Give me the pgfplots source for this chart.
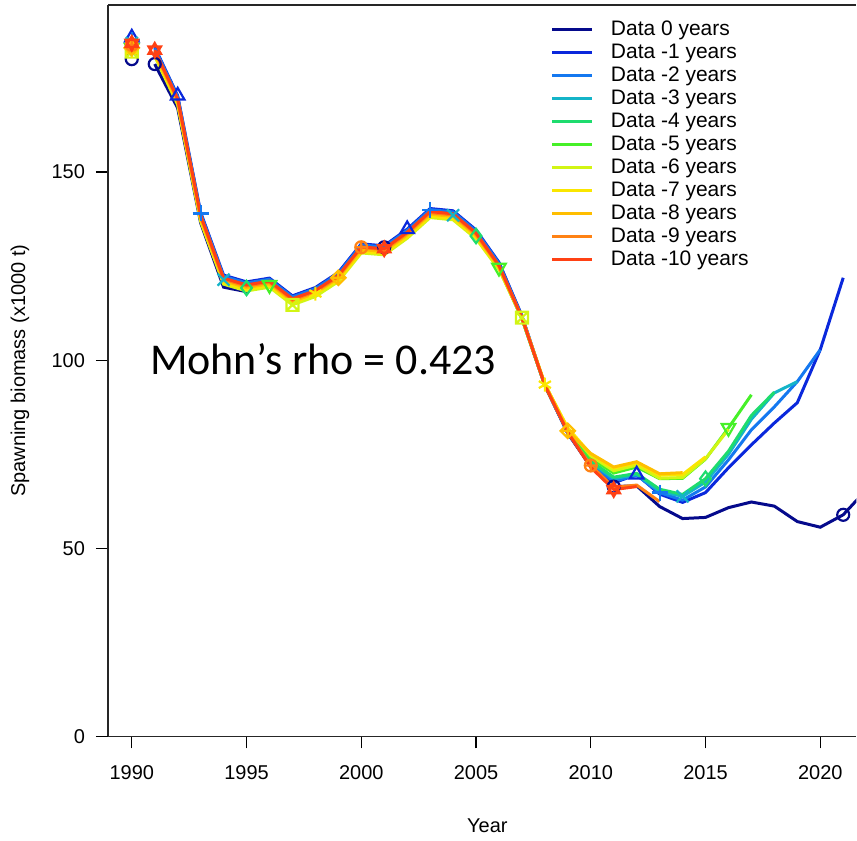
\documentclass[border=0pt]{standalone}
\usepackage{fontspec}
\setmainfont{Liberation Sans}
\newfontfamily\carlito{Carlito}
\usepackage{pgfplots}
\pgfplotsset{compat=1.18}
\definecolor{c0}{RGB}{5,10,140}
\definecolor{c1}{RGB}{10,40,220}
\definecolor{c2}{RGB}{20,120,240}
\definecolor{c3}{RGB}{20,180,200}
\definecolor{c4}{RGB}{30,220,110}
\definecolor{c5}{RGB}{70,240,40}
\definecolor{c6}{RGB}{210,245,20}
\definecolor{c7}{RGB}{250,230,0}
\definecolor{c8}{RGB}{255,190,0}
\definecolor{c9}{RGB}{255,130,20}
\definecolor{c10}{RGB}{255,65,20}
\pgfdeclareplotmark{boxx}{%
  \pgfpathrectangle{\pgfpoint{-\pgfplotmarksize}{-\pgfplotmarksize}}{\pgfpoint{2\pgfplotmarksize}{2\pgfplotmarksize}}%
  \pgfpathmoveto{\pgfpoint{-\pgfplotmarksize}{-\pgfplotmarksize}}\pgfpathlineto{\pgfpoint{\pgfplotmarksize}{\pgfplotmarksize}}%
  \pgfpathmoveto{\pgfpoint{-\pgfplotmarksize}{\pgfplotmarksize}}\pgfpathlineto{\pgfpoint{\pgfplotmarksize}{-\pgfplotmarksize}}%
  \pgfusepathqstroke}
\pgfdeclareplotmark{diamplus}{%
  \pgfpathmoveto{\pgfpoint{0pt}{1.2\pgfplotmarksize}}\pgfpathlineto{\pgfpoint{1.2\pgfplotmarksize}{0pt}}%
  \pgfpathlineto{\pgfpoint{0pt}{-1.2\pgfplotmarksize}}\pgfpathlineto{\pgfpoint{-1.2\pgfplotmarksize}{0pt}}\pgfpathclose
  \pgfpathmoveto{\pgfpoint{0pt}{1.2\pgfplotmarksize}}\pgfpathlineto{\pgfpoint{0pt}{-1.2\pgfplotmarksize}}%
  \pgfpathmoveto{\pgfpoint{-1.2\pgfplotmarksize}{0pt}}\pgfpathlineto{\pgfpoint{1.2\pgfplotmarksize}{0pt}}%
  \pgfusepathqstroke}
\pgfdeclareplotmark{david}{%
  \pgfpathmoveto{\pgfqpointpolar{90}{1.2\pgfplotmarksize}}\pgfpathlineto{\pgfqpointpolar{210}{1.2\pgfplotmarksize}}%
  \pgfpathlineto{\pgfqpointpolar{330}{1.2\pgfplotmarksize}}\pgfpathclose
  \pgfpathmoveto{\pgfqpointpolar{270}{1.2\pgfplotmarksize}}\pgfpathlineto{\pgfqpointpolar{30}{1.2\pgfplotmarksize}}%
  \pgfpathlineto{\pgfqpointpolar{150}{1.2\pgfplotmarksize}}\pgfpathclose
  \pgfusepathqstroke}
\pgfdeclareplotmark{invtri}{%
  \pgfpathmoveto{\pgfqpointpolar{270}{1.3\pgfplotmarksize}}\pgfpathlineto{\pgfqpointpolar{30}{1.3\pgfplotmarksize}}%
  \pgfpathlineto{\pgfqpointpolar{150}{1.3\pgfplotmarksize}}\pgfpathclose
  \pgfusepathqstroke}
\pgfdeclareplotmark{uptri}{%
  \pgfpathmoveto{\pgfqpointpolar{90}{1.3\pgfplotmarksize}}\pgfpathlineto{\pgfqpointpolar{210}{1.3\pgfplotmarksize}}%
  \pgfpathlineto{\pgfqpointpolar{330}{1.3\pgfplotmarksize}}\pgfpathclose
  \pgfusepathqstroke}
\pgfdeclareplotmark{bigx}{%
  \pgfpathmoveto{\pgfpoint{-\pgfplotmarksize}{-\pgfplotmarksize}}\pgfpathlineto{\pgfpoint{\pgfplotmarksize}{\pgfplotmarksize}}%
  \pgfpathmoveto{\pgfpoint{-\pgfplotmarksize}{\pgfplotmarksize}}\pgfpathlineto{\pgfpoint{\pgfplotmarksize}{-\pgfplotmarksize}}%
  \pgfusepathqstroke}
\pgfplotsset{mk/.style={only marks, forget plot, line width=1.1pt, mark size=3pt, mark options={solid}}}
\begin{document}
\begin{tikzpicture}
\begin{axis}[
  scale only axis, width=374.5pt, height=366pt,
  xmin=1988.96, xmax=2021.57, ymin=0, ymax=194.4,
  axis x line=box, axis y line=left,
  axis line style={-, black!85, line width=0.7pt},
  xtick={1990,1995,2000,2005,2010,2015,2020},
  ytick={0,50,100,150},
  xtick pos=left, ytick pos=left,
  tick align=outside, major tick length=6pt,
  tick style={black, line width=0.6pt},
  ticklabel style={font=\fontsize{10}{12}\selectfont},
  xticklabel style={yshift=-5pt},
  yticklabel style={xshift=-2pt},
  /pgf/number format/assume math mode=true,
  /pgf/number format/1000 sep={},
  xlabel={Year},
  ylabel={Spawning biomass (x1000 t)},
  label style={font=\fontsize{10}{12}\selectfont},
  xlabel style={at={(axis description cs:0.507,-0.1216)}, anchor=center},
  ylabel style={at={(axis description cs:-0.1175,0.5)}, anchor=center},
  legend style={at={(axis description cs:0.5915,0.981)}, anchor=north west,
    draw=none, fill=none, inner sep=0pt, font=\fontsize{10.5}{12}\selectfont,
    row sep=1pt, nodes={inner sep=0pt, text height=8pt, text depth=2.5pt},
    /tikz/every odd column/.append style={column sep=8.5pt}},
  legend cell align=left,
  legend image code/.code={\draw[#1] (0pt,0pt) -- (20pt,0pt);},
]
% ---- Data 0
\addplot[c0, no marks, line width=1.5pt] coordinates {(1991,178.7)(1992,167.0)(1993,136.5)(1994,119.4)(1995,118.2)(1996,121.2)(1997,116.5)(1998,118.8)(1999,122.9)(2000,130.5)(2001,130.0)(2002,134.4)(2003,139.9)(2004,139.3)(2005,134.2)(2006,125.6)(2007,111.4)(2008,93.3)(2009,80.6)(2010,71.6)(2011,66.4)(2012,66.6)(2013,61.1)(2014,57.9)(2015,58.2)(2016,60.8)(2017,62.3)(2018,61.2)(2019,57.1)(2020,55.6)(2021,58.9)(2022,65.5)};
\addlegendentry{Data 0 years}
% ---- Data -1
\addplot[c1, no marks, line width=1.5pt] coordinates {(1991,183.2)(1992,170.3)(1993,139.3)(1994,122.6)(1995,120.8)(1996,121.8)(1997,117.1)(1998,119.3)(1999,123.3)(2000,130.9)(2001,130.4)(2002,134.8)(2003,140.3)(2004,139.7)(2005,134.6)(2006,126.0)(2007,111.8)(2008,93.3)(2009,80.5)(2010,72.0)(2011,67.4)(2012,69.6)(2013,64.4)(2014,62.2)(2015,64.8)(2016,71.4)(2017,77.5)(2018,83.3)(2019,88.7)(2020,102.8)(2021,121.9)};
\addlegendentry{Data -1 years}
% ---- Data -2
\addplot[c2, no marks, line width=1.5pt] coordinates {(1991,182.9)(1992,170.0)(1993,139.0)(1994,122.3)(1995,120.5)(1996,121.5)(1997,116.8)(1998,119.0)(1999,123.0)(2000,130.6)(2001,130.1)(2002,134.5)(2003,140.0)(2004,139.4)(2005,134.3)(2006,125.7)(2007,111.6)(2008,93.3)(2009,80.6)(2010,72.3)(2011,67.8)(2012,69.4)(2013,64.8)(2014,62.8)(2015,66.3)(2016,73.5)(2017,81.5)(2018,87.6)(2019,94.3)(2020,102.8)};
\addlegendentry{Data -2 years}
% ---- Data -3
\addplot[c3, no marks, line width=1.5pt] coordinates {(1991,182.0)(1992,169.1)(1993,138.1)(1994,121.4)(1995,119.6)(1996,120.6)(1997,115.9)(1998,118.1)(1999,122.1)(2000,129.7)(2001,129.2)(2002,133.6)(2003,139.1)(2004,138.5)(2005,133.4)(2006,124.8)(2007,111.1)(2008,93.3)(2009,80.8)(2010,72.8)(2011,68.5)(2012,69.6)(2013,65.2)(2014,63.8)(2015,67.6)(2016,75.0)(2017,84.3)(2018,91.3)(2019,94.3)};
\addlegendentry{Data -3 years}
% ---- Data -4
\addplot[c4, no marks, line width=1.5pt] coordinates {(1991,181.6)(1992,168.7)(1993,137.7)(1994,121.0)(1995,119.2)(1996,120.2)(1997,115.5)(1998,117.7)(1999,121.7)(2000,129.3)(2001,128.8)(2002,133.2)(2003,138.7)(2004,138.1)(2005,133.0)(2006,124.5)(2007,111.0)(2008,93.3)(2009,80.9)(2010,73.2)(2011,68.9)(2012,69.9)(2013,65.7)(2014,64.3)(2015,68.5)(2016,75.8)(2017,85.3)(2018,91.5)};
\addlegendentry{Data -4 years}
% ---- Data -5
\addplot[c5, no marks, line width=1.5pt] coordinates {(1991,181.4)(1992,168.5)(1993,137.5)(1994,120.8)(1995,119.0)(1996,120.0)(1997,115.3)(1998,117.5)(1999,121.5)(2000,129.1)(2001,128.6)(2002,133.0)(2003,138.5)(2004,137.9)(2005,132.8)(2006,124.6)(2007,111.1)(2008,93.4)(2009,81.3)(2010,74.0)(2011,70.0)(2012,71.6)(2013,68.5)(2014,68.6)(2015,73.7)(2016,82.0)(2017,90.8)};
\addlegendentry{Data -5 years}
% ---- Data -6
\addplot[c6, no marks, line width=1.5pt] coordinates {(1991,180.8)(1992,167.9)(1993,136.9)(1994,120.2)(1995,118.4)(1996,119.4)(1997,114.7)(1998,116.9)(1999,120.9)(2000,128.5)(2001,128.0)(2002,132.4)(2003,137.9)(2004,137.3)(2005,132.3)(2006,124.1)(2007,111.3)(2008,93.6)(2009,81.8)(2010,74.6)(2011,70.6)(2012,72.1)(2013,68.6)(2014,68.8)(2015,73.8)(2016,81.6)};
\addlegendentry{Data -6 years}
% ---- Data -7
\addplot[c7, no marks, line width=1.5pt] coordinates {(1991,181.2)(1992,168.3)(1993,137.3)(1994,120.6)(1995,118.8)(1996,119.8)(1997,115.1)(1998,117.7)(1999,121.3)(2000,128.9)(2001,128.4)(2002,132.8)(2003,138.3)(2004,137.7)(2005,132.7)(2006,124.5)(2007,111.2)(2008,93.5)(2009,82.0)(2010,75.0)(2011,71.3)(2012,72.7)(2013,69.4)(2014,69.6)(2015,74.3)};
\addlegendentry{Data -7 years}
% ---- Data -8
\addplot[c8, no marks, line width=1.5pt] coordinates {(1991,181.7)(1992,168.8)(1993,137.8)(1994,121.1)(1995,119.3)(1996,120.3)(1997,115.6)(1998,117.8)(1999,121.9)(2000,129.4)(2001,128.9)(2002,133.3)(2003,138.8)(2004,138.2)(2005,133.1)(2006,124.8)(2007,111.3)(2008,93.7)(2009,81.2)(2010,75.2)(2011,71.6)(2012,73.0)(2013,69.8)(2014,70.1)};
\addlegendentry{Data -8 years}
% ---- Data -9
\addplot[c9, no marks, line width=1.5pt] coordinates {(1991,182.1)(1992,169.2)(1993,138.2)(1994,121.5)(1995,119.7)(1996,120.7)(1997,116.0)(1998,118.2)(1999,122.2)(2000,130.0)(2001,129.3)(2002,133.7)(2003,139.2)(2004,138.6)(2005,133.5)(2006,125.0)(2007,111.3)(2008,93.3)(2009,80.8)(2010,72.0)(2011,66.2)(2012,66.8)(2013,62.4)};
\addlegendentry{Data -9 years}
% ---- Data -10
\addplot[c10, no marks, line width=1.5pt] coordinates {(1991,182.4)(1992,169.5)(1993,138.5)(1994,121.8)(1995,120.0)(1996,121.0)(1997,116.3)(1998,118.5)(1999,122.5)(2000,130.1)(2001,129.6)(2002,134.0)(2003,139.5)(2004,138.9)(2005,133.8)(2006,125.2)(2007,111.3)(2008,93.3)(2009,80.8)(2010,71.5)(2011,65.6)(2012,66.4)};
\addlegendentry{Data -10 years}
% ---- markers
\addplot[c0, mk, mark=o] coordinates {(1990,180.0)(1991,178.7)(2001,130.0)(2011,66.4)(2021,58.9)};
\addplot[c1, mk, mark=uptri] coordinates {(1990,185.7)(1992,170.3)(2002,134.8)(2012,69.6)};
\addplot[c2, mk, mark=+, mark size=4pt] coordinates {(1990,185.0)(1993,139.0)(2003,140.0)(2013,64.8)};
\addplot[c3, mk, mark=bigx, mark size=3pt] coordinates {(1990,184.3)(1994,121.4)(2004,138.5)(2014,63.8)};
\addplot[c4, mk, mark=diamond, mark size=3.6pt] coordinates {(1990,183.5)(1995,119.2)(2005,133.0)(2015,68.5)};
\addplot[c5, mk, mark=invtri] coordinates {(1990,183.0)(1996,120.0)(2006,124.6)(2016,82.0)};
\addplot[c6, mk, mark=boxx] coordinates {(1990,182.0)(1997,114.7)(2007,111.3)};
\addplot[c7, mk, mark=asterisk, mark size=3.5pt] coordinates {(1990,182.3)(1998,117.7)(2008,93.5)};
\addplot[c8, mk, mark=diamplus] coordinates {(1990,183.0)(1999,121.9)(2009,81.2)};
\addplot[c9, mk, mark=oplus] coordinates {(1990,183.8)(2000,130.0)(2010,72.0)};
\addplot[c10, mk, mark=david] coordinates {(1990,184.2)(1991,182.4)(2001,129.6)(2011,65.6)};
\node[anchor=base west, inner sep=0pt, font=\carlito\fontsize{22}{26}\selectfont] at (axis cs:1990.78,96.1) {Mohn’s rho = 0.423};
\end{axis}
\path (current axis.south west) ++(-54pt,-52pt) rectangle (current axis.north east);
\path (current axis.north east) ++(0pt,2.5pt);
\end{tikzpicture}
\end{document}
